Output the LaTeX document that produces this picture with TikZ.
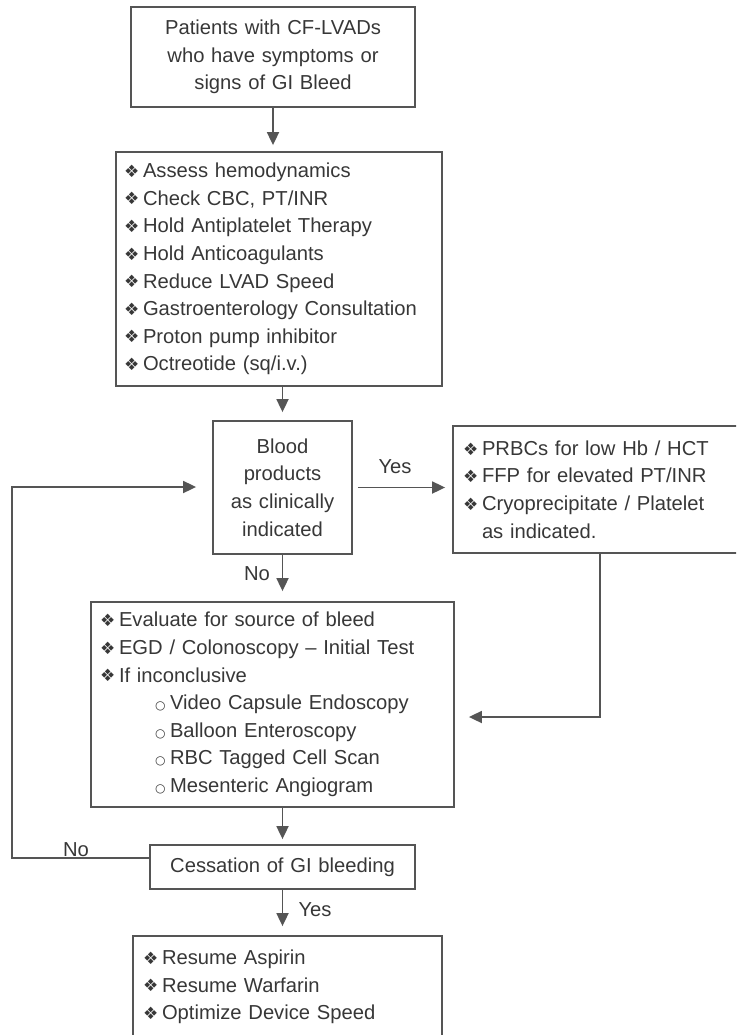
\documentclass[tikz,border=0pt]{standalone}
\usepackage{fontspec}
\setmainfont{Liberation Sans}
\newfontfamily\symfont{DejaVu Sans}
\usetikzlibrary{arrows.meta}
\definecolor{ln}{RGB}{85,85,85}
\definecolor{tx}{RGB}{55,55,55}
\newcommand\dia{\makebox[19pt][l]{\symfont\fontsize{17}{17}\selectfont\raisebox{0.3pt}{❖}}}
\newcommand\subb{\hspace*{55pt}\makebox[15pt][l]{\symfont\fontsize{12}{12}\selectfont\raisebox{0.3pt}{○}}}
\begin{document}
\begin{tikzpicture}[x=1pt,y=-1pt,
  box/.style={draw=ln,line width=1.8pt,rectangle,inner sep=0pt,text=tx,
    font=\fontsize{20.2}{27.6}\selectfont},
  arr/.style={draw=ln,line width=1.8pt,-{Triangle[width=12pt,length=13pt]}},
  lbl/.style={text=tx,font=\fontsize{20.2}{24}\selectfont,inner sep=0pt}]
\useasboundingbox (0,0) rectangle (736,1035);
\clip (0,0) rectangle (736,1035);

\node[box,minimum width=284pt,minimum height=100pt,text width=260pt,align=center]
  (pat) at (273,57) {Patients with CF-LVADs\\who have symptoms or\\signs of GI Bleed};

\node[box,minimum width=326pt,minimum height=234pt,text width=310pt,align=left]
  (asse) at (279,269) {\dia Assess hemodynamics\\\dia Check CBC, PT/INR\\\dia Hold Antiplatelet Therapy\\\dia Hold Anticoagulants\\\dia Reduce LVAD Speed\\\dia Gastroenterology Consultation\\\dia Proton pump inhibitor\\\dia Octreotide (sq/i.v.)};

\node[box,minimum width=139pt,minimum height=133pt,text width=130pt,align=center]
  (blood) at (282.5,487.5) {Blood\\products\\as clinically\\indicated};

\node[box,minimum width=294pt,minimum height=127pt,text width=274pt,align=left]
  (prbc) at (600,489.5) {\dia PRBCs for low Hb / HCT\\\dia FFP for elevated PT/INR\\\dia Cryoprecipitate / Platelet\\\hspace*{19pt}as indicated.};

\node[box,minimum width=363pt,minimum height=205pt,text width=345pt,align=left]
  (eval) at (272.5,704.5) {\dia Evaluate for source of bleed\\\dia EGD / Colonoscopy -- Initial Test\\\dia If inconclusive\\\subb Video Capsule Endoscopy\\\subb Balloon Enteroscopy\\\subb RBC Tagged Cell Scan\\\subb Mesenteric Angiogram};

\node[box,minimum width=265pt,minimum height=44pt,text width=250pt,align=center]
  (cess) at (282.5,867) {Cessation of GI bleeding};

\node[box,minimum width=309pt,minimum height=102pt,text width=289pt,align=left]
  (res) at (287.5,987) {\dia Resume Aspirin\\\dia Resume Warfarin\\\dia Optimize Device Speed};

% connectors
\draw[arr,shorten >=6pt] (pat.south) -- (pat.south |- asse.north);
\draw[arr,shorten >=8pt] (blood.north |- asse.south) -- (blood.north);
\draw[arr,shorten <=5pt,shorten >=7pt] (blood.east) -- (blood.east -| prbc.west);
\draw[arr,shorten >=10pt] (blood.south) -- (blood.south |- eval.north);
\coordinate (ret) at (600,717);
\draw[arr,shorten >=14pt] (prbc.south) -- (ret) -- (ret -| eval.east);
\draw[arr,shorten >=5pt] (eval.south -| cess.north) -- (cess.north);
\draw[arr,shorten >=9pt] (cess.south) -- (cess.south |- res.north);
\coordinate (lpa) at (12,858);
\coordinate (lpb) at (12,487);
\draw[arr,shorten >=16pt] (cess.west |- lpa) -- (lpa) -- (lpb) -- (lpb -| blood.west);

% labels
\node[lbl] (yes1) at (395,467) {Yes};
\node[lbl] (no1) at (257,574) {No};
\node[lbl] (no2) at (76,850) {No};
\node[lbl] (yes2) at (315,910) {Yes};
\end{tikzpicture}
\end{document}
